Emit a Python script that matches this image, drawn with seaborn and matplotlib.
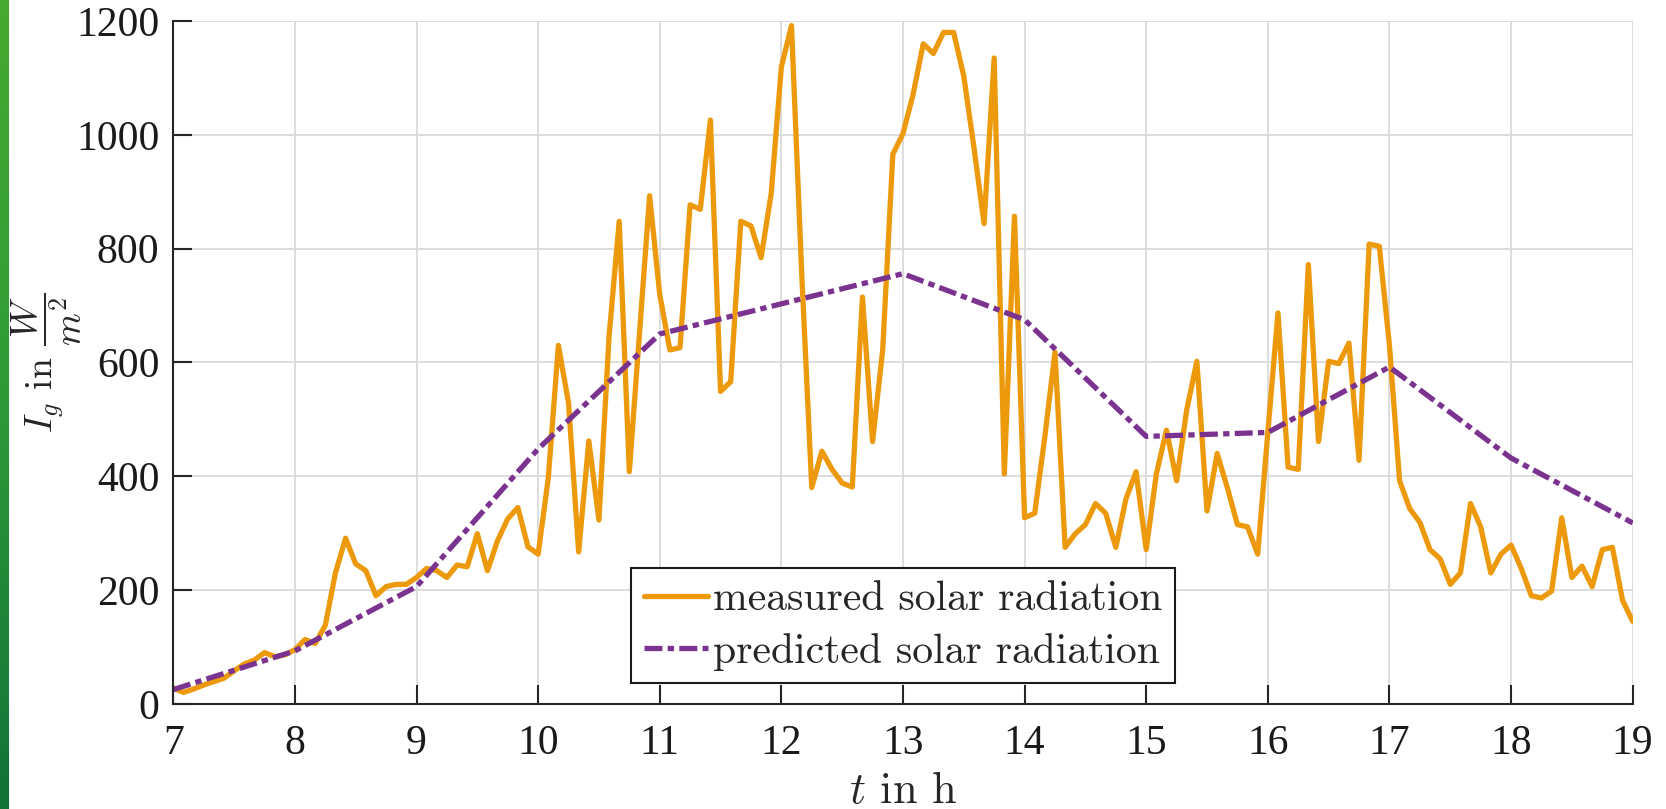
import numpy as np
import pandas as pd
import matplotlib
matplotlib.use("Agg")
import matplotlib.pyplot as plt
from matplotlib.colors import LinearSegmentedColormap
import seaborn as sns

# ── data ──────────────────────────────────────────────────────────
# predicted solar radiation, one value per full hour (7 h ... 19 h)
pred_hours = [7, 8, 9, 10, 11, 12, 13, 14, 15, 16, 17, 18, 19]
predicted = [25, 93, 206, 448, 650, 703, 756, 675, 470, 477, 592, 432, 318]

# measured solar radiation, 5-minute samples from 7:00 to 19:00
measured_07 = [28, 20, 26, 33, 39, 45, 58, 70, 77, 90, 83, 86]
measured_08 = [95, 113, 106, 138, 230, 291, 246, 234, 190, 206, 210, 210]
measured_09 = [222, 238, 234, 222, 244, 241, 299, 234, 287, 325, 345, 276]
measured_10 = [263, 396, 630, 529, 267, 462, 323, 646, 848, 408, 650, 893]
measured_11 = [719, 622, 626, 877, 869, 1026, 549, 566, 848, 840, 784, 897]
measured_12 = [1119, 1192, 760, 380, 444, 412, 388, 381, 715, 461, 622, 966]
measured_13 = [1002, 1071, 1160, 1143, 1180, 1180, 1103, 978, 844, 1135, 404, 857]
measured_14 = [327, 335, 470, 618, 275, 299, 315, 352, 335, 275, 360, 408]
measured_15 = [271, 404, 481, 392, 517, 602, 339, 440, 380, 315, 311, 263]
measured_16 = [477, 687, 416, 412, 772, 461, 602, 598, 634, 428, 808, 804]
measured_17 = [630, 392, 343, 319, 271, 255, 210, 230, 352, 311, 230, 263]
measured_18 = [279, 238, 190, 186, 198, 327, 222, 242, 206, 271, 275, 182]
measured_19 = [145]

measured = (measured_07 + measured_08 + measured_09 + measured_10 + measured_11
            + measured_12 + measured_13 + measured_14 + measured_15 + measured_16
            + measured_17 + measured_18 + measured_19)
STEP_MIN = 5
meas_time = 7 + np.arange(len(measured)) * STEP_MIN / 60

ORANGE = "#EC9A0C"
PURPLE = "#7B3390"

# ── style ─────────────────────────────────────────────────────────
sns.set_style("ticks")
plt.rcParams["font.family"] = ["Liberation Serif", "DejaVu Serif"]
plt.rcParams["mathtext.fontset"] = "cm"

fig = plt.figure(figsize=(16.66, 8.09), dpi=100)
ax = fig.add_axes([0.104, 0.130, 0.876, 0.844])

df_meas = pd.DataFrame({"t": meas_time, "I": measured})
df_pred = pd.DataFrame({"t": pred_hours, "I": predicted})

sns.lineplot(data=df_meas, x="t", y="I", color=ORANGE, linewidth=3.8,
             ax=ax, label="measured solar radiation")
sns.lineplot(data=df_pred, x="t", y="I", color=PURPLE, linewidth=3.8,
             ax=ax, label="predicted solar radiation")
ax.lines[1].set_linestyle((0, (3.4, 1.0, 1.2, 1.0)))

ax.set_xlim(7, 19)
ax.set_ylim(0, 1200)
ax.set_xticks(range(7, 20))
ax.set_yticks(range(0, 1201, 200))
ax.grid(True, color="#dadada", linewidth=1.3)
ax.set_axisbelow(True)

for side in ["top", "right"]:
    ax.spines[side].set_visible(False)
for side in ["left", "bottom"]:
    ax.spines[side].set_color("#262626")
    ax.spines[side].set_linewidth(1.5)

ax.tick_params(direction="in", length=14, width=1.5, labelsize=30,
               colors="#262626", labelcolor="#1a1a1a")
ax.tick_params(axis="x", pad=15)
ax.tick_params(axis="y", pad=10)

ax.set_xlabel(r"$t$ in h", fontsize=32, family="cmr10", labelpad=6)
ax.set_ylabel(r"$I_g$ in $\dfrac{W}{m^2}$", fontsize=27, family="cmr10")
ax.yaxis.set_label_coords(-0.061, 0.5)

leg = ax.legend(loc="lower center", bbox_to_anchor=(0.5, 0.03),
                prop={"family": "cmr10", "size": 30}, frameon=True,
                fancybox=False, framealpha=1, edgecolor="#1a1a1a",
                handlelength=1.55, handletextpad=0.1, borderpad=0.3,
                labelspacing=0.35, borderaxespad=0)
leg.get_frame().set_linewidth(1.5)

# green strip of the slide background on the left edge
strip = fig.add_axes([0, 0, 9 / 1666, 1])
green = LinearSegmentedColormap.from_list("g", ["#47aa30", "#2d9a38", "#137238"])
strip.imshow(np.linspace(0, 1, 100).reshape(-1, 1), aspect="auto", cmap=green)
strip.set_axis_off()

fig.savefig("out.png", dpi=100)
